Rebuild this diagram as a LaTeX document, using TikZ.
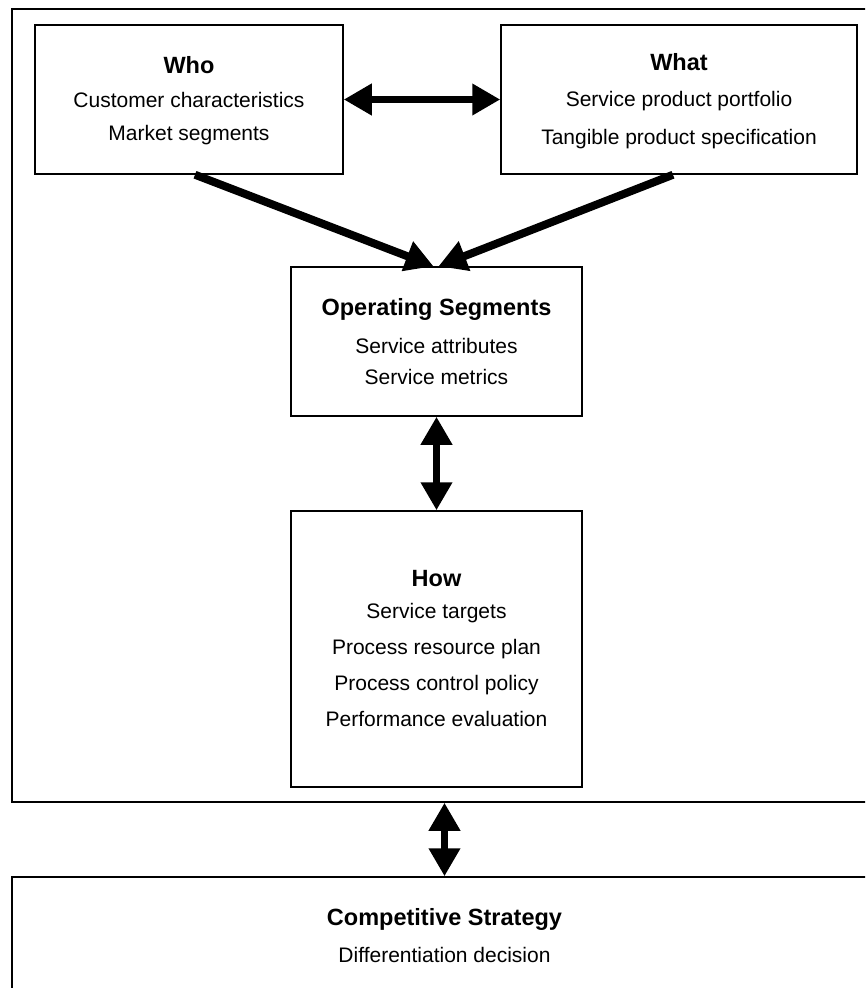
\documentclass[tikz,border=0pt]{standalone}
\usepackage{fontspec}
\setmainfont{Liberation Sans}
\usetikzlibrary{arrows.meta}
\begin{document}
\begin{tikzpicture}[x=1pt,y=-1pt,
 box/.style={draw,line width=1.5pt,inner sep=0pt},
 txt/.style={font=\fontsize{21}{25}\selectfont,inner sep=0pt,anchor=base},
 head/.style={font=\fontsize{23.5}{28}\selectfont\bfseries,inner sep=0pt,anchor=base},
 conn/.style={line width=7.5pt,{Triangle[length=28pt,width=30pt]}-{Triangle[length=28pt,width=30pt]}},
 one/.style={line width=8pt,-{Triangle[length=28pt,width=30pt]}}]
\useasboundingbox (0,0) rectangle (865,988);
\clip (0,0) rectangle (865,988);
% boxes
\node[box,minimum width=865pt,minimum height=793pt] (outer) at (444.5,405.5) {};
\node[box,minimum width=308pt,minimum height=149pt] (who) at (189,99.5) {};
\node[box,minimum width=356pt,minimum height=149pt] (what) at (679,99.5) {};
\node[box,minimum width=291pt,minimum height=149pt] (ops) at (436.5,341.5) {};
\node[box,minimum width=291pt,minimum height=276pt] (how) at (436.5,649) {};
\node[box,minimum width=865pt,minimum height=133pt] (strat) at (444.5,943.5) {};
% texts
\node[head] (whoH) at (189,73) {Who};
\node[txt] (whoA) at (189,107) {Customer characteristics};
\node[txt] (whoB) at (189,140) {Market segments};
\node[head] (whatH) at (679,70) {What};
\node[txt] (whatA) at (679,106) {Service product portfolio};
\node[txt] (whatB) at (679,144) {Tangible product specification};
\node[head] (opsH) at (436.5,315) {Operating Segments};
\node[txt] (opsA) at (436.5,353) {Service attributes};
\node[txt] (opsB) at (436.5,384) {Service metrics};
\node[head] (howH) at (436.5,586) {How};
\node[txt] (howA) at (436.5,618) {Service targets};
\node[txt] (howB) at (436.5,654) {Process resource plan};
\node[txt] (howC) at (436.5,690) {Process control policy};
\node[txt] (howD) at (436.5,726) {Performance evaluation};
\node[head] (stratH) at (444.5,925) {Competitive Strategy};
\node[txt] (stratA) at (444.5,962) {Differentiation decision};
% connectors
\draw[conn] (who.east) -- (what.west);
\draw[one] ([xshift=6pt]who.south) -- ([xshift=-3pt]ops.north);
\draw[one] ([xshift=-6pt]what.south) -- ([xshift=2pt]ops.north);
\draw[conn] (ops.south) -- (how.north);
\draw[conn] (outer.south) -- (strat.north);
\end{tikzpicture}
\end{document}
